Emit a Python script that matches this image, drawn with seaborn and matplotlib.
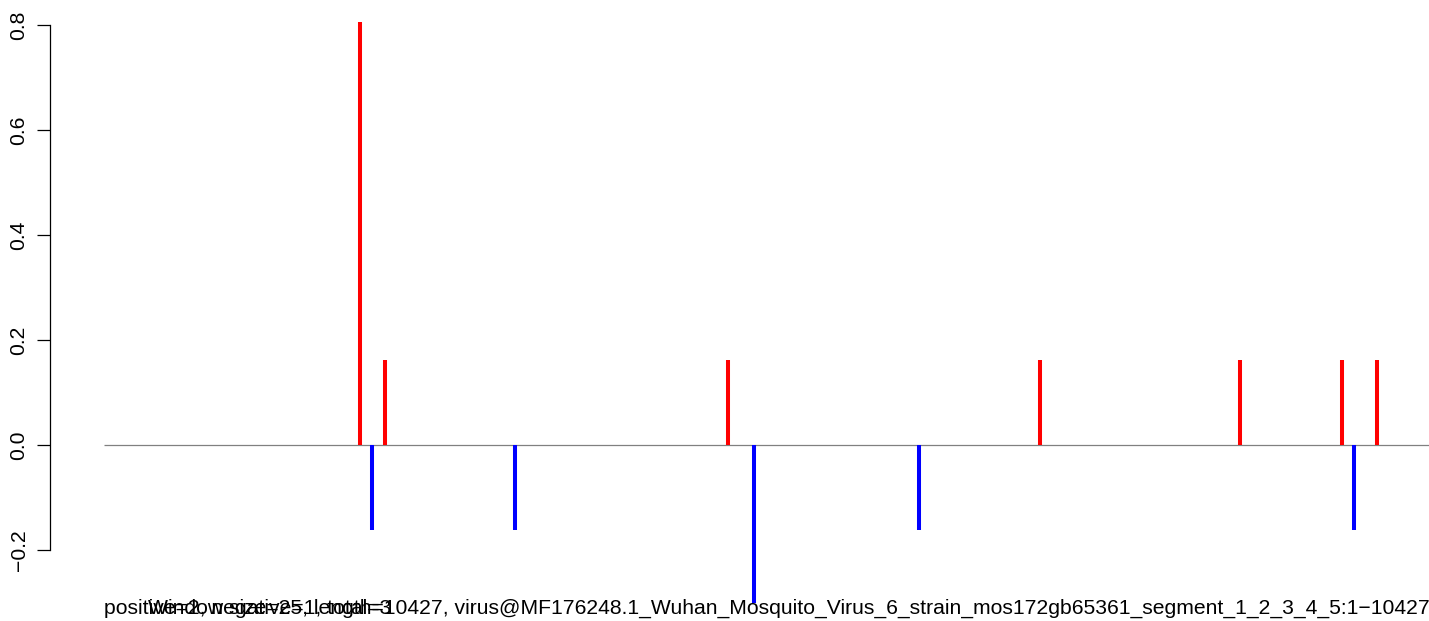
import matplotlib
matplotlib.use("Agg")
import matplotlib.pyplot as plt
import numpy as np
import pandas as pd
import seaborn as sns

# spike positions (bp) and heights
pos_x = [2015, 2212, 4911, 7366, 8940, 9743, 10018]
pos_y = [0.806, 0.162, 0.162, 0.162, 0.162, 0.162, 0.162]
neg_x = [2110, 3235, 5116, 6414, 9836]
neg_y = [-0.162, -0.162, -0.30, -0.162, -0.162]
genome_len = 10427
y_ticks = [-0.2, 0.0, 0.2, 0.4, 0.6, 0.8]

summary_txt = "positive=2, negative=1, total=3"
xlab_txt = ("Window size=25, length=10427, "
            "virus@MF176248.1_Wuhan_Mosquito_Virus_6_strain_mos172gb65361_segment_1_2_3_4_5:1\u221210427")

sns.set_theme(style="white")
plt.rcParams["font.family"] = ["Liberation Sans", "DejaVu Sans"]

df = pd.DataFrame({
    "x": pos_x + neg_x,
    "y": pos_y + neg_y,
    "sign": ["pos"] * len(pos_x) + ["neg"] * len(neg_x),
})

W, H = 1429, 621
fs = 15.2
fig = plt.figure(figsize=(W / 100, H / 100), dpi=100)
ax = fig.add_axes([50 / W, 0, 1 - 50 / W, 1])

# x: bp 1 sits at pixel 104, bp 10427 at the right edge
px_per_bp = (W - 104) / (genome_len - 1)
x_left = 1 - (104 - 50) / px_per_bp
ax.set_xlim(x_left, genome_len)
ax.set_ylim(-0.335, 0.848)

ax.hlines(0, 1, genome_len, color="#808080", lw=0.9, zorder=1)
colors = {"pos": "#ff0000", "neg": "#0000ff"}
for s, d in df.groupby("sign"):
    ax.vlines(d["x"], 0, d["y"], color=colors[s], lw=2.9, zorder=2)

sns.despine(ax=ax, bottom=True, right=True, top=True)
ax.spines["left"].set_bounds(-0.2, 0.8)
ax.spines["left"].set_color("black")
ax.spines["left"].set_linewidth(0.9)
ax.set_xticks([])
ax.set_yticks(y_ticks)
ax.set_yticklabels([f"{t:.1f}".replace("-", "\u2212") for t in y_ticks],
                   rotation=90, va="center", fontsize=fs)
ax.tick_params(axis="y", left=True, length=9.4, width=0.9, pad=6, color="black", labelcolor="black")

fig.text(104 / W, 1 - 608 / H, summary_txt, ha="left", va="center", fontsize=fs, color="black")
fig.text(148 / W, 1 - 608 / H, xlab_txt, ha="left", va="center", fontsize=fs, color="black")

fig.savefig("out.png", dpi=100, facecolor="white")
